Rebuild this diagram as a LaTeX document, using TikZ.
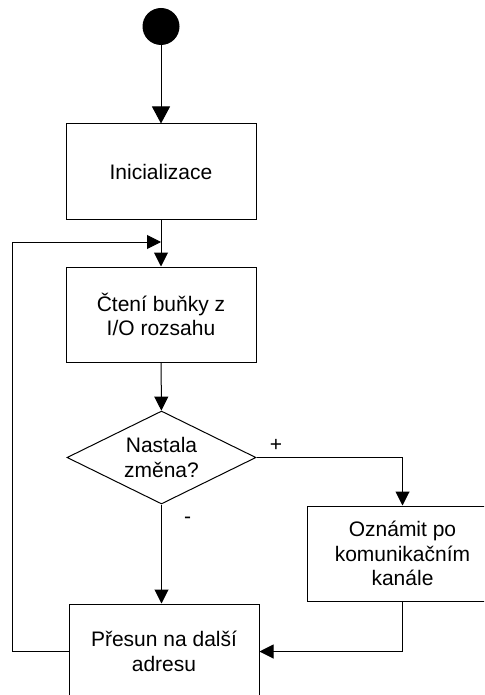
\documentclass[tikz,border=0pt]{standalone}
\usepackage{fontspec}
\setmainfont{Liberation Sans}
\usetikzlibrary{shapes.geometric,arrows.meta}

\begin{document}
\begin{tikzpicture}[x=1pt,y=-1pt,
  every node/.style={font=\fontsize{21}{24.5}\selectfont},
  flow/.style={line width=1pt},
  arr/.style={flow,-{Triangle[length=14pt,width=14pt]}},
  bigarr/.style={flow,-{Triangle[length=17pt,width=18pt]}},
  stepbox/.style={draw,line width=1pt,rectangle,minimum width=190pt,minimum height=95pt,
    inner sep=0pt,align=center},
  decide/.style={draw,line width=1pt,diamond,aspect=2,minimum width=189pt,minimum height=93pt,
    inner sep=0pt,align=center},
  branch/.style={inner sep=0pt}]

  \clip (0,0) rectangle (484,695);
  \fill[white] (0,0) rectangle (484,695);

  % activity nodes
  \node[circle,fill=black,minimum size=37pt,inner sep=0pt] (start) at (161,26.5) {};
  \node[stepbox] (init) at (161,171.5) {Inicializace};
  \node[stepbox] (read) at (161,314.5) {Čtení buňky z\\I/O rozsahu};
  \node[decide] (dia) at (161.5,457.5) {Nastala\\změna?};
  \node[stepbox] (notify) at (402.5,553.5) {Oznámit po\\komunikačním\\kanále};
  \node[stepbox] (move) at (164,651.5) {Přesun na další\\adresu};

  % loop-back points
  \coordinate (loop) at (12,242);
  \coordinate (join) at (161,242);

  % connectors
  \draw[bigarr] (start) -- (init);
  \draw[arr] (init) -- (read);
  \draw[arr] (read) -- (dia);
  \draw[arr] (dia.east) -| (notify.north);
  \draw[arr] (dia.south) -- (dia.south |- move.north);
  \draw[arr] (notify.south) |- (move.east);
  \draw[arr] (move.west) -| (loop) -- (join);

  % branch labels
  \node[branch] (plus) at (276,445) {+};
  \node[branch] (minus) at (187.5,520) {-};
\end{tikzpicture}
\end{document}
